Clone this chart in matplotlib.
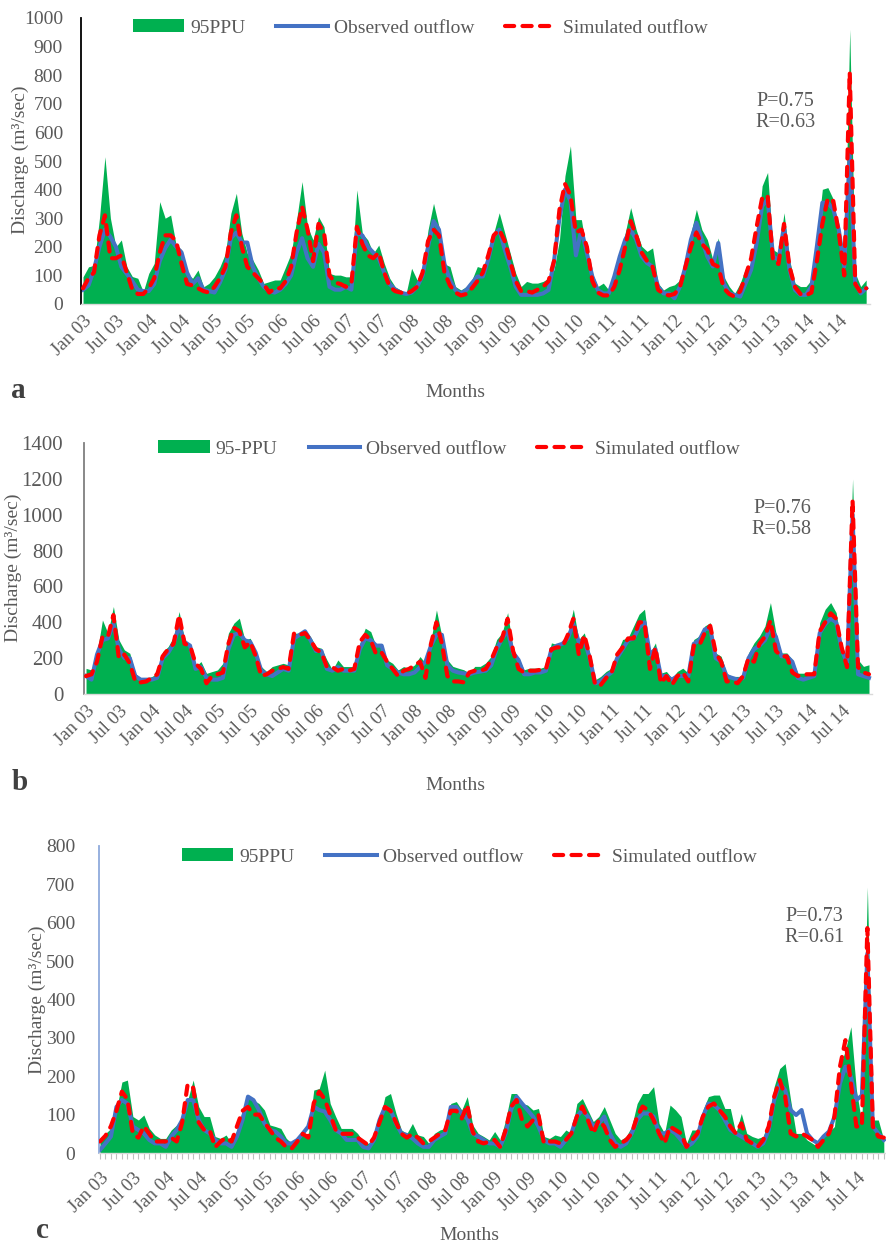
import matplotlib.pyplot as plt
from matplotlib.patches import Patch
from matplotlib.lines import Line2D

plt.rcParams['font.family'] = ['Liberation Serif', 'DejaVu Serif']

# monthly values, Jan 2003 .. Dec 2014
ppu_a = [95, 130, 135, 300, 515, 300, 200, 224, 130, 96, 90, 43,
         107, 142, 358, 300, 311, 206, 190, 107, 90, 119, 60, 72,
         95, 130, 177, 317, 387, 247, 177, 154, 119, 72, 78, 84,
         84, 130, 177, 294, 428, 270, 224, 305, 270, 107, 101, 101,
         95, 95, 399, 247, 224, 177, 206, 142, 90, 60, 49, 37,
         125, 84, 119, 259, 352, 270, 140, 131, 61, 49, 61, 84,
         131, 125, 155, 249, 319, 249, 178, 108, 61, 79, 73, 73,
         79, 90, 120, 225, 448, 553, 295, 295, 178, 108, 61, 73,
         49, 96, 166, 249, 337, 260, 202, 184, 196, 73, 49, 61,
         67, 84, 155, 249, 331, 260, 225, 155, 231, 96, 61, 37,
         73, 125, 137, 202, 413, 460, 190, 178, 319, 155, 73, 61,
         61, 84, 225, 401, 407, 366, 249, 96, 960, 108, 61, 84]
obs_a = [50, 65, 120, 200, 260, 235, 200, 130, 105, 80, 50, 45,
         45, 70, 150, 195, 225, 200, 180, 110, 70, 90, 50, 45,
         40, 75, 120, 230, 250, 215, 215, 130, 90, 60, 45, 40,
         50, 70, 100, 180, 230, 160, 130, 210, 180, 60, 50, 50,
         60, 50, 250, 240, 200, 180, 160, 110, 70, 50, 40, 35,
         40, 60, 100, 200, 290, 260, 140, 84, 49, 37, 49, 73,
         96, 96, 155, 237, 260, 190, 131, 61, 32, 32, 32, 32,
         37, 49, 150, 300, 400, 360, 170, 260, 178, 96, 49, 37,
         37, 96, 166, 225, 260, 225, 166, 143, 131, 61, 37, 37,
         20, 61, 131, 225, 284, 225, 166, 131, 213, 73, 37, 32,
         26, 73, 120, 213, 342, 366, 166, 155, 272, 120, 49, 32,
         32, 61, 202, 354, 354, 331, 260, 131, 520, 73, 37, 55]
sim_a = [55, 90, 110, 240, 310, 160, 160, 170, 110, 50, 35, 35,
         55, 90, 180, 240, 240, 220, 140, 70, 65, 55, 45, 40,
         60, 90, 130, 250, 310, 200, 130, 110, 90, 70, 40, 55,
         55, 80, 130, 250, 340, 260, 150, 280, 250, 100, 75, 70,
         60, 70, 270, 210, 170, 160, 180, 110, 60, 45, 40, 35,
         45, 60, 110, 220, 260, 240, 110, 65, 40, 30, 35, 55,
         80, 110, 170, 240, 260, 220, 150, 80, 45, 45, 40, 50,
         60, 80, 150, 330, 420, 380, 250, 260, 200, 80, 40, 30,
         30, 60, 120, 200, 290, 240, 180, 150, 130, 50, 35, 30,
         35, 60, 130, 200, 250, 210, 190, 140, 130, 55, 35, 25,
         45, 100, 160, 270, 370, 380, 150, 140, 280, 130, 60, 35,
         30, 40, 150, 280, 370, 360, 250, 100, 810, 70, 40, 55]

ppu_b = [143, 134, 227, 413, 339, 488, 302, 246, 227, 115, 88, 88,
         97, 115, 236, 264, 320, 460, 302, 264, 153, 181, 115, 125,
         134, 171, 339, 395, 423, 302, 311, 227, 153, 125, 153, 162,
         171, 162, 339, 339, 358, 320, 264, 255, 190, 134, 190, 153,
         153, 153, 283, 367, 348, 264, 274, 190, 171, 134, 153, 143,
         162, 209, 171, 302, 469, 320, 191, 154, 144, 135, 116, 154,
         154, 173, 210, 304, 341, 454, 248, 201, 135, 144, 144, 144,
         154, 285, 276, 285, 341, 473, 304, 341, 229, 79, 98, 126,
         144, 229, 304, 313, 379, 445, 473, 229, 285, 116, 126, 88,
         126, 144, 116, 304, 323, 379, 398, 229, 210, 116, 98, 98,
         98, 229, 285, 323, 379, 510, 341, 229, 229, 191, 116, 116,
         116, 116, 398, 473, 510, 454, 266, 191, 1200, 191, 154, 163]
obs_b = [100, 80, 220, 300, 310, 390, 250, 200, 200, 100, 80, 80,
         80, 90, 200, 230, 280, 380, 290, 270, 140, 150, 90, 80,
         80, 90, 250, 330, 340, 300, 290, 230, 130, 110, 100, 120,
         140, 130, 310, 330, 350, 300, 240, 240, 140, 130, 150, 130,
         130, 130, 250, 310, 300, 270, 270, 160, 140, 120, 110, 110,
         120, 150, 180, 270, 330, 330, 160, 130, 120, 115, 110, 120,
         125, 130, 160, 250, 310, 350, 230, 190, 110, 110, 120, 120,
         130, 250, 270, 280, 310, 390, 290, 300, 200, 60, 70, 100,
         120, 200, 250, 300, 310, 370, 400, 220, 250, 100, 100, 80,
         100, 100, 100, 280, 300, 360, 370, 200, 180, 100, 90, 80,
         90, 200, 250, 270, 300, 370, 320, 210, 210, 180, 90, 80,
         90, 100, 340, 390, 420, 400, 250, 170, 1000, 110, 100, 90]
sim_b = [100, 110, 180, 320, 320, 440, 200, 220, 170, 70, 65, 70,
         90, 110, 210, 250, 280, 440, 280, 270, 170, 140, 60, 100,
         110, 120, 280, 370, 350, 260, 290, 210, 100, 110, 130, 140,
         150, 140, 340, 330, 340, 300, 250, 230, 150, 150, 130, 140,
         130, 140, 290, 330, 300, 220, 230, 180, 140, 100, 130, 140,
         160, 180, 90, 280, 400, 280, 100, 70, 70, 65, 120, 130,
         130, 140, 190, 260, 310, 420, 240, 140, 120, 130, 130, 135,
         140, 250, 260, 260, 330, 420, 220, 330, 210, 50, 50, 90,
         120, 220, 260, 310, 310, 400, 400, 140, 260, 60, 100, 50,
         100, 120, 70, 270, 270, 340, 380, 230, 180, 70, 70, 60,
         100, 200, 180, 280, 320, 410, 240, 210, 210, 120, 100, 110,
         110, 110, 350, 400, 450, 420, 260, 150, 1080, 150, 120, 110]

ppu_c = [38, 51, 64, 112, 185, 190, 95, 86, 99, 64, 47, 38,
         38, 60, 73, 90, 138, 190, 121, 95, 95, 43, 38, 47,
         25, 60, 112, 147, 138, 129, 112, 73, 69, 64, 38, 25,
         30, 51, 47, 164, 168, 216, 129, 95, 64, 64, 64, 51,
         30, 25, 43, 86, 147, 155, 103, 60, 51, 77, 47, 43,
         25, 51, 60, 64, 129, 134, 112, 147, 73, 51, 43, 34,
         56, 34, 86, 155, 155, 129, 125, 112, 116, 43, 38, 47,
         43, 60, 51, 129, 142, 112, 82, 95, 121, 86, 51, 34,
         43, 69, 129, 155, 155, 173, 77, 51, 125, 112, 95, 25,
         60, 60, 112, 147, 151, 151, 116, 116, 51, 103, 51, 43,
         38, 43, 86, 173, 220, 233, 138, 51, 51, 34, 25, 16,
         51, 56, 69, 225, 268, 329, 164, 77, 693, 86, 86, 34]
obs_c = [8, 25, 43, 120, 138, 129, 69, 60, 51, 34, 25, 25,
         16, 43, 60, 86, 138, 138, 86, 60, 51, 34, 25, 25,
         16, 43, 86, 147, 138, 112, 77, 60, 56, 43, 25, 25,
         34, 51, 69, 121, 112, 108, 86, 60, 51, 34, 34, 34,
         16, 12, 34, 86, 120, 112, 77, 51, 47, 38, 25, 16,
         16, 34, 43, 51, 120, 120, 103, 90, 51, 43, 34, 25,
         25, 16, 51, 112, 147, 129, 112, 95, 69, 34, 25, 25,
         16, 34, 51, 95, 112, 95, 69, 77, 95, 51, 25, 16,
         25, 51, 86, 103, 103, 95, 51, 51, 60, 51, 34, 16,
         25, 43, 95, 129, 125, 112, 86, 60, 51, 43, 34, 25,
         16, 25, 60, 138, 181, 164, 112, 99, 112, 51, 34, 25,
         43, 56, 95, 181, 225, 199, 138, 150, 520, 69, 51, 34]
sim_c = [30, 45, 70, 110, 160, 140, 50, 40, 70, 50, 30, 30,
         30, 40, 30, 80, 180, 170, 80, 60, 60, 15, 30, 40,
         30, 70, 110, 120, 100, 100, 80, 60, 40, 30, 15, 12,
         30, 50, 40, 130, 160, 140, 100, 60, 50, 50, 50, 40,
         30, 20, 40, 80, 120, 110, 80, 50, 40, 50, 40, 25,
         30, 40, 50, 60, 110, 110, 90, 125, 55, 30, 25, 30,
         34, 16, 60, 121, 138, 86, 69, 86, 99, 25, 30, 30,
         25, 34, 51, 95, 121, 86, 51, 86, 69, 34, 16, 25,
         34, 51, 95, 121, 112, 86, 51, 25, 69, 60, 51, 16,
         34, 51, 95, 121, 129, 112, 95, 69, 51, 77, 34, 25,
         16, 34, 69, 147, 190, 147, 51, 43, 51, 43, 34, 16,
         34, 51, 95, 225, 294, 181, 69, 69, 586, 69, 43, 40]

months = list(range(144))
tick_pos = list(range(0, 144, 6))
tick_lab = []
for yr in range(3, 15):
    tick_lab.append("Jan %02d" % yr)
    tick_lab.append("Jul %02d" % yr)

GREEN = '#00B050'
BLUE = '#4472C4'
RED = '#FF0000'
GREY = '#595959'

W, H = 887, 1243
fig = plt.figure(figsize=(W / 100, H / 100), dpi=100)


def fx(x):
    return x / W


def fy(y):
    return 1 - y / H


def panel(box, xlim, ymax, ystep, ppu, obs, sim, ppu_name, spine_col,
          ylab_x, ylab_y, leg_x, leg_y, ann_x, ann_y, mon_y, let, let_x, let_y,
          minor_ticks=False, ypad=13, ysize=14):
    left, top, right, bottom = box
    ax = fig.add_axes([fx(left), fy(bottom), fx(right - left), (bottom - top) / H])
    ax.fill_between(months, 0, ppu, color=GREEN, lw=0, zorder=1)
    ax.plot(months, obs, color=BLUE, lw=2.9, solid_joinstyle='round', zorder=2)
    ax.plot(months, sim, color=RED, lw=3.0, dashes=(2.2, 2.0),
            dash_capstyle='round', zorder=3)
    ax.set_xlim(*xlim)
    ax.set_ylim(0, ymax)
    ax.set_yticks(range(0, ymax + 1, ystep))
    ax.tick_params(axis='y', length=0, pad=ypad, labelsize=ysize, labelcolor=GREY)
    if minor_ticks:
        ax.set_xticks(months)
        labs = ['' for m in months]
        for p, l in zip(tick_pos, tick_lab):
            labs[p] = l
        ax.set_xticklabels(labs, rotation=45, ha='right', va='top',
                           rotation_mode='anchor')
        ax.tick_params(axis='x', length=4, width=0.8, color='#BFBFBF',
                       pad=8, labelsize=13.5, labelcolor=GREY)
    else:
        ax.set_xticks(tick_pos)
        ax.set_xticklabels(tick_lab, rotation=45, ha='right', va='top',
                           rotation_mode='anchor')
        ax.tick_params(axis='x', length=0, pad=6, labelsize=13.5, labelcolor=GREY)
    for s in ['top', 'right']:
        ax.spines[s].set_visible(False)
    ax.spines['left'].set_color(spine_col)
    ax.spines['left'].set_linewidth(1.3)
    ax.spines['bottom'].set_color('#D9D9D9')
    ax.spines['bottom'].set_linewidth(1.0)
    ax.set_facecolor('none')

    fig.text(fx(ylab_x), fy(ylab_y), 'Discharge (m³/sec)', rotation=90,
             ha='center', va='center', fontsize=14, color=GREY)
    fig.text(fx(455 if let != 'c' else 469), fy(mon_y), 'Months', ha='center',
             va='center', fontsize=14, color=GREY)
    fig.text(fx(let_x), fy(let_y), let, ha='center', va='center',
             fontsize=21, fontweight='bold', color='#404040')
    ax.text(ann_x, ann_y, ann_txt[let], transform=ax.transData, ha='center',
            va='center', fontsize=14.5, color=GREY, linespacing=1.2)

    handles = [Patch(facecolor=GREEN, edgecolor='none'),
               Line2D([0], [0], color=BLUE, lw=2.9),
               Line2D([0], [0], color=RED, lw=3.0, dashes=(2.2, 2.0),
                      dash_capstyle='round')]
    leg = fig.legend(handles, [ppu_name, 'Observed outflow', 'Simulated outflow'],
                     loc='center', bbox_to_anchor=(fx(leg_x), fy(leg_y)),
                     ncol=3, frameon=False, fontsize=14, handlelength=2.65,
                     handleheight=0.62, handletextpad=0.3, columnspacing=1.6)
    for t in leg.get_texts():
        t.set_color(GREY)
    return ax


ann_txt = {'a': 'P=0.75\nR=0.63', 'b': 'P=0.76\nR=0.58', 'c': 'P=0.73\nR=0.61'}

panel((81, 18, 870, 304), (-0.37, 143.7), 1000, 100, ppu_a, obs_a, sim_a,
      '95PPU', '#000000', 20, 160, 420, 28, 128.2, 671, 392, 'a', 18, 390)
panel((84, 443, 872, 694), (-0.37, 143.55), 1400, 200, ppu_b, obs_b, sim_b,
      '95-PPU', '#7F7F7F', 13, 568, 449, 449, 127.1, 976, 786, 'b', 20, 783,
      ypad=15, ysize=15)
panel((99, 846, 886, 1153), (-0.18, 143.4), 800, 100, ppu_c, obs_c, sim_c,
      '95PPU', '#8FAADC', 37, 1000, 469, 857, 130.3, 589, 1236, 'c', 42, 1230,
      minor_ticks=True, ypad=17)

fig.savefig('out.png', dpi=100)
